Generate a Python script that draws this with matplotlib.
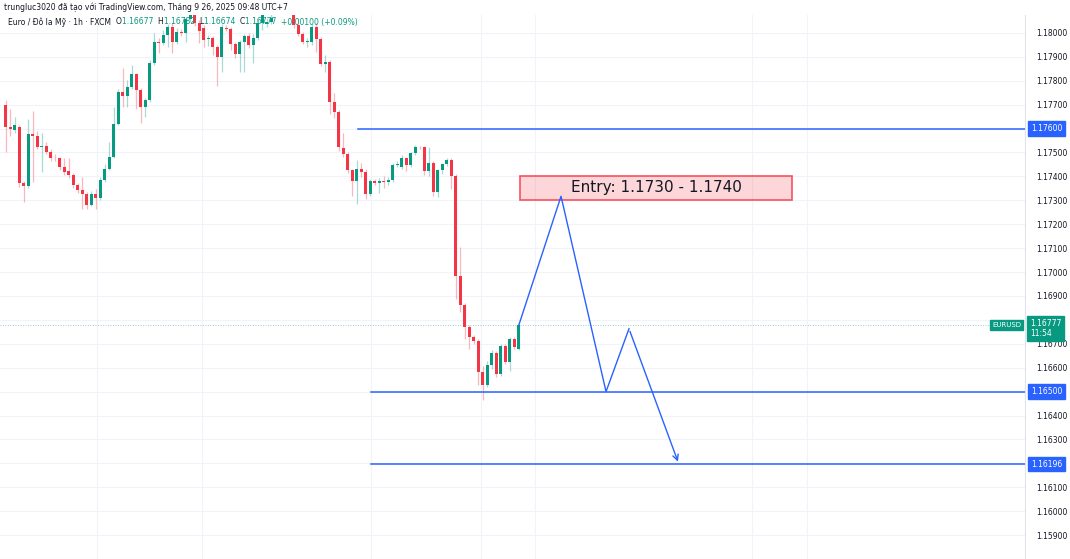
import matplotlib.pyplot as plt
import matplotlib.transforms as mtransforms
from matplotlib.patches import Rectangle
import numpy as np

# 1h EURUSD candles
opens = [1.17700, 1.17608, 1.17596, 1.17608, 1.17371, 1.17358, 1.17579, 1.17571, 1.17525, 1.17529,
         1.17504, 1.17479, 1.17475, 1.17438, 1.17421, 1.17404, 1.17363, 1.17342, 1.17325, 1.17279,
         1.17325, 1.17308, 1.17383, 1.17433, 1.17483, 1.17621, 1.17754, 1.17738, 1.17775, 1.17829,
         1.17763, 1.17692, 1.17721, 1.17875, 1.17963, 1.17958, 1.17992, 1.18025, 1.17963, 1.18004,
         1.18000, 1.18058, 1.18075, 1.18042, 1.18021, 1.17975, 1.17979, 1.17942, 1.17900, 1.18021,
         1.18017, 1.17954, 1.17913, 1.17963, 1.17988, 1.17950, 1.17979, 1.18042, 1.18038, 1.18046,
         1.18088, 1.18121, 1.18138, 1.18113, 1.18096, 1.18033, 1.17996, 1.17963, 1.17963, 1.18025,
         1.17975, 1.17871, 1.17879, 1.17713, 1.17671, 1.17517, 1.17492, 1.17425, 1.17379, 1.17429,
         1.17417, 1.17325, 1.17379, 1.17371, 1.17379, 1.17375, 1.17383, 1.17446, 1.17438, 1.17475,
         1.17446, 1.17496, 1.17525, 1.17521, 1.17421, 1.17454, 1.17333, 1.17425, 1.17450, 1.17467,
         1.17400, 1.16983, 1.16863, 1.16771, 1.16729, 1.16713, 1.16583, 1.16529, 1.16613, 1.16663,
         1.16575, 1.16692, 1.16625, 1.16721, 1.16677]
closes = [1.17608, 1.17600, 1.17613, 1.17371, 1.17358, 1.17579, 1.17567, 1.17525, 1.17529, 1.17504,
          1.17479, 1.17475, 1.17438, 1.17417, 1.17404, 1.17363, 1.17342, 1.17325, 1.17279, 1.17325,
          1.17308, 1.17383, 1.17433, 1.17483, 1.17621, 1.17754, 1.17738, 1.17775, 1.17829, 1.17763,
          1.17692, 1.17721, 1.17875, 1.17963, 1.17958, 1.17992, 1.18025, 1.17963, 1.18004, 1.18000,
          1.18058, 1.18075, 1.18042, 1.18008, 1.17971, 1.17979, 1.17942, 1.17900, 1.18025, 1.18017,
          1.17954, 1.17913, 1.17963, 1.17988, 1.17950, 1.17979, 1.18042, 1.18083, 1.18046, 1.18063,
          1.18121, 1.18138, 1.18113, 1.18096, 1.18033, 1.17996, 1.17963, 1.17967, 1.18025, 1.17975,
          1.17871, 1.17879, 1.17713, 1.17671, 1.17521, 1.17492, 1.17425, 1.17379, 1.17429, 1.17417,
          1.17325, 1.17379, 1.17371, 1.17379, 1.17375, 1.17383, 1.17446, 1.17450, 1.17475, 1.17446,
          1.17496, 1.17521, 1.17521, 1.17421, 1.17454, 1.17333, 1.17425, 1.17450, 1.17467, 1.17400,
          1.16983, 1.16863, 1.16771, 1.16729, 1.16713, 1.16583, 1.16529, 1.16613, 1.16663, 1.16575,
          1.16692, 1.16625, 1.16721, 1.16688, 1.16777]
highs = [1.17721, 1.17683, 1.17650, 1.17613, 1.17379, 1.17638, 1.17675, 1.17588, 1.17583, 1.17542,
         1.17513, 1.17492, 1.17483, 1.17479, 1.17479, 1.17413, 1.17371, 1.17396, 1.17333, 1.17338,
         1.17346, 1.17396, 1.17450, 1.17542, 1.17692, 1.17767, 1.17854, 1.17804, 1.17867, 1.17833,
         1.17771, 1.17729, 1.17888, 1.18000, 1.17979, 1.18013, 1.18038, 1.18042, 1.18021, 1.18017,
         1.18067, 1.18096, 1.18096, 1.18054, 1.18033, 1.17992, 1.17988, 1.17950, 1.18038, 1.18033,
         1.18025, 1.17963, 1.17971, 1.17996, 1.18000, 1.17996, 1.18054, 1.18104, 1.18063, 1.18079,
         1.18138, 1.18158, 1.18154, 1.18129, 1.18104, 1.18063, 1.18004, 1.17979, 1.18038, 1.18042,
         1.17983, 1.17908, 1.17888, 1.17750, 1.17679, 1.17583, 1.17500, 1.17433, 1.17467, 1.17458,
         1.17429, 1.17388, 1.17388, 1.17392, 1.17400, 1.17396, 1.17458, 1.17463, 1.17488, 1.17483,
         1.17504, 1.17533, 1.17529, 1.17529, 1.17521, 1.17463, 1.17433, 1.17458, 1.17479, 1.17475,
         1.17408, 1.17104, 1.16871, 1.16779, 1.16738, 1.16721, 1.16608, 1.16629, 1.16675, 1.16671,
         1.16700, 1.16700, 1.16729, 1.16729, 1.16782]
lows = [1.17504, 1.17567, 1.17583, 1.17354, 1.17292, 1.17350, 1.17375, 1.17513, 1.17417, 1.17492,
        1.17463, 1.17463, 1.17425, 1.17404, 1.17392, 1.17350, 1.17329, 1.17263, 1.17263, 1.17275,
        1.17263, 1.17300, 1.17375, 1.17425, 1.17475, 1.17613, 1.17692, 1.17692, 1.17767, 1.17683,
        1.17625, 1.17650, 1.17713, 1.17867, 1.17917, 1.17950, 1.17942, 1.17917, 1.17954, 1.17988,
        1.17963, 1.18046, 1.18029, 1.17958, 1.17942, 1.17946, 1.17908, 1.17779, 1.17838, 1.18008,
        1.17929, 1.17896, 1.17838, 1.17838, 1.17938, 1.17875, 1.17971, 1.18013, 1.18025, 1.18038,
        1.18092, 1.18104, 1.18100, 1.18088, 1.18021, 1.17988, 1.17954, 1.17942, 1.17950, 1.17921,
        1.17863, 1.17838, 1.17663, 1.17646, 1.17508, 1.17483, 1.17413, 1.17317, 1.17283, 1.17396,
        1.17304, 1.17317, 1.17363, 1.17329, 1.17350, 1.17363, 1.17375, 1.17438, 1.17429, 1.17421,
        1.17438, 1.17488, 1.17513, 1.17404, 1.17400, 1.17317, 1.17313, 1.17408, 1.17442, 1.17346,
        1.16888, 1.16833, 1.16721, 1.16679, 1.16700, 1.16529, 1.16463, 1.16521, 1.16596, 1.16563,
        1.16567, 1.16617, 1.16588, 1.16679, 1.16674]

price_ticks = [1.158, 1.159, 1.160, 1.161, 1.162, 1.163, 1.164, 1.165, 1.166, 1.167, 1.168,
               1.169, 1.170, 1.171, 1.172, 1.173, 1.174, 1.175, 1.176, 1.177, 1.178, 1.179, 1.180]
hidden_labels = [1.158, 1.162, 1.165, 1.168, 1.176]   # covered by tags in the screenshot
levels = [1.17600, 1.16500, 1.16196]
level_start = [78.3, 81.2, 81.2]          # bar index where each drawn line starts
entry_low, entry_high = 1.1730, 1.1740
path_x = [114, 123.4, 133.4, 138.5, 149.6]
path_y = [1.16777, 1.17317, 1.16500, 1.16763, 1.16196]
last_price = 1.16777

UP, DOWN, BLUE = '#089981', '#f23645', '#2962ff'

fig = plt.figure(figsize=(10.7, 5.59), dpi=100)
ax = fig.add_axes([0, 0, 1025 / 1070, 544 / 559])

x = np.arange(len(opens))
o, c, h, l = map(np.array, (opens, closes, highs, lows))
col = np.where(c >= o, UP, DOWN)
ax.vlines(x, l, h, colors=col, lw=0.9, alpha=0.35, zorder=2)
body = np.where(np.abs(c - o) < 0.00003, 0.00003, c - o)
ax.bar(x, body, bottom=o, width=0.68, color=col, zorder=3)

ax.set_xlim(-1.27, 226.5)
ax.set_ylim(1.15808, 1.18075)

# grid
for p in price_ticks:
    ax.axhline(p, color='#f0f3fa', lw=0.8, zorder=0)
for gx in [20.3, 43.6, 81.2, 105.6, 117.6, 165.9, 178.1]:
    ax.axvline(gx, color='#f0f3fa', lw=0.8, zorder=0)

ax.set_xticks([])
ax.yaxis.tick_right()
ax.set_yticks(price_ticks)
ax.set_yticklabels(['' if any(abs(p - q) < 1e-9 for q in hidden_labels) else f'{p:.5f}'
                    for p in price_ticks], fontsize=5.5, color='#131722')
ax.tick_params(axis='y', length=0, pad=8)
for s in ['top', 'left', 'bottom']:
    ax.spines[s].set_visible(False)
ax.spines['right'].set_color('#e0e3eb')

# current price
ax.axhline(last_price, color=UP, lw=0.6, ls=(0, (1, 2)), alpha=0.6, zorder=1)

# horizontal levels with axis tags
tr = mtransforms.blended_transform_factory(ax.transAxes, ax.transData)
for lv, xs in zip(levels, level_start):
    ax.plot([xs, 226.5], [lv, lv], color=BLUE, lw=1.1, zorder=4)
    ax.text(1.006, lv, f'{lv:.5f}', transform=tr, fontsize=5.5, color='white', va='center',
            ha='left', clip_on=False,
            bbox=dict(boxstyle='square,pad=0.35', fc=BLUE, ec=BLUE))

ax.text(1.005, last_price - 0.00013, f'{last_price:.5f}\n11:54', transform=tr, fontsize=5.5,
        color='white', va='center', ha='left', linespacing=1.1, clip_on=False,
        bbox=dict(boxstyle='square,pad=0.35', fc=UP, ec=UP))
ax.text(0.996, last_price, 'EURUSD', transform=tr, fontsize=5, color='white', va='center',
        ha='right', clip_on=False, bbox=dict(boxstyle='square,pad=0.3', fc=UP, ec=UP))

# entry zone
ax.add_patch(Rectangle((114.3, entry_low), 60.4, entry_high - entry_low,
                       fc='#f23645', alpha=0.2, ec='none', zorder=4))
ax.add_patch(Rectangle((114.3, entry_low), 60.4, entry_high - entry_low,
                       fc='none', ec='#f7525f', lw=1.2, zorder=4))
ax.text(144.5, 1.17355, 'Entry: 1.1730 - 1.1740', ha='center', va='center',
        fontsize=11, color='#131722', zorder=5)

# projected path
ax.plot(path_x[:-1], path_y[:-1], color=BLUE, lw=1, zorder=5)
ax.annotate('', xy=(path_x[-1], path_y[-1]), xytext=(path_x[-2], path_y[-2]),
            arrowprops=dict(arrowstyle='->', color=BLUE, lw=1, mutation_scale=10), zorder=5)

# header
fig.text(4 / 1070, 1 - 7 / 559, 'trungluc3020 đã tạo với TradingView.com, Tháng 9 26, 2025 09:48 UTC+7',
         fontsize=5.5, color='#131722', va='center')
parts = [('Euro / Đô la Mỹ · 1h · FXCM  ', '#131722'), ('O', '#131722'), ('1.16677  ', UP),
         ('H', '#131722'), ('1.16782  ', UP), ('L', '#131722'), ('1.16674  ', UP),
         ('C', '#131722'), ('1.16777  ', UP), ('+0.00100 (+0.09%)', UP)]
fig.canvas.draw()
r = fig.canvas.get_renderer()
px = 8
for s, cl in parts:
    t = fig.text(px / 1070, 1 - 22 / 559, s, fontsize=5.5, color=cl, va='center')
    px += t.get_window_extent(r).width

fig.savefig('out.png', dpi=100)
